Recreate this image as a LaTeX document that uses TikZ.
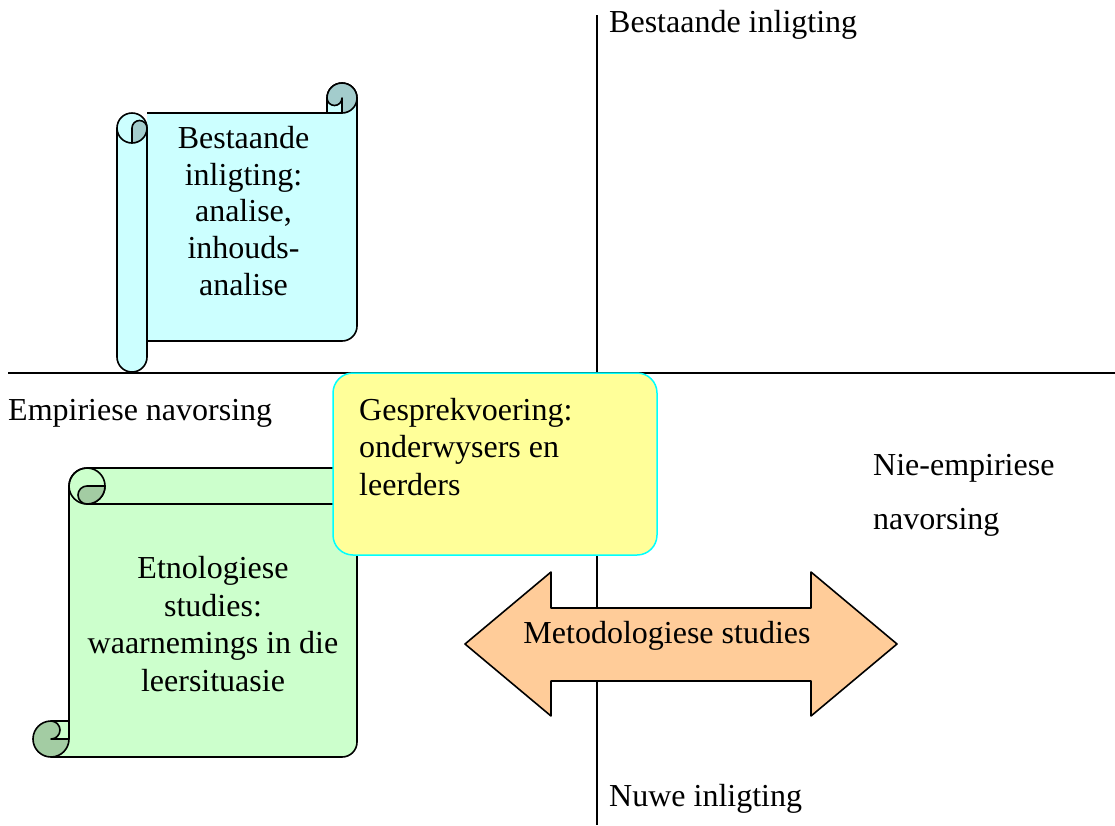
\documentclass[tikz,border=0pt]{standalone}
\usepackage{fontspec}
\setmainfont{Liberation Serif}
\definecolor{cyanf}{HTML}{CCFFFF}
\definecolor{cyand}{HTML}{A3CCCC}
\definecolor{greenf}{HTML}{CCFFCC}
\definecolor{greend}{HTML}{A3CCA3}
\definecolor{yfill}{HTML}{FFFF99}
\definecolor{ybord}{HTML}{00FFFF}
\definecolor{orangef}{HTML}{FFCC99}
\begin{document}
\begin{tikzpicture}[x=1pt,y=-1pt,line join=round,
  txt/.style={font=\fontsize{32}{36.6}\selectfont,inner sep=0pt},
  txtb/.style={font=\fontsize{32}{37.4}\selectfont,inner sep=0pt},
  ax/.style={line width=1.5pt},
  ol/.style={line width=1.6pt}]
\useasboundingbox (0,0) rectangle (1115,825);
% axes
\coordinate (hl) at (8,373); \coordinate (hr) at (1115,373);
\coordinate (vt) at (597,15); \coordinate (vb) at (597,825);
\draw[ax] (hl) -- (hr);
\draw[ax] (vt) -- (vb);
% axis labels
\node[txt,anchor=base west] (lt) at (609,32) {Bestaande inligting};
\node[txt,anchor=base west] (ll) at (8,420) {Empiriese navorsing};
\node[txt,anchor=base west] (lr1) at (873,475) {Nie-empiriese};
\node[txt,anchor=base west] (lr2) at (873,529) {navorsing};
\node[txt,anchor=base west] (lb) at (609,806) {Nuwe inligting};

% ---- cyan vertical scroll ----
\fill[cyanf] (147,113) -- (327,113) -- (327,98) arc[start angle=180,end angle=360,radius=15]
  -- (357,326) arc[start angle=0,end angle=90,radius=15] -- (147,341) -- cycle;
\draw[ol] (147,113) -- (342,113);
\draw[ol] (327,113) -- (327,98) arc[start angle=180,end angle=360,radius=15]
  -- (357,326) arc[start angle=0,end angle=90,radius=15] -- (147,341);
\filldraw[ol,fill=cyand] (342,98) circle[radius=15];
\fill[cyanf] (327,98) arc[start angle=180,end angle=0,radius=7.5] -- (342,113) -- (327,113) -- cycle;
\draw[ol] (327,113) -- (327,98) arc[start angle=180,end angle=0,radius=7.5] -- (342,113) -- cycle;
% tube
\filldraw[ol,fill=cyanf] (117,128) arc[start angle=180,end angle=360,radius=15]
  -- (147,357) arc[start angle=0,end angle=180,radius=15] -- cycle;
\filldraw[ol,fill=cyand] (132,128) arc[start angle=180,end angle=360,radius=7.5]
  arc[start angle=0,end angle=90,radius=15] -- cycle;
\draw[ol] (117,128) arc[start angle=180,end angle=90,radius=15];
\node[txt,align=center] (cs) at (243.5,211) {Bestaande\\inligting:\\analise,\\inhouds-\\analise};

% ---- green horizontal scroll ----
\fill[greenf] (69,486) arc[start angle=180,end angle=270,radius=18] -- (357,468)
  -- (357,742) arc[start angle=0,end angle=90,radius=15] -- (51,757) -- (51,721) -- (69,721) -- cycle;
\draw[ol] (69,739) -- (69,486) arc[start angle=180,end angle=270,radius=18] -- (357,468)
  -- (357,742) arc[start angle=0,end angle=90,radius=15] -- (51,757);
\draw[ol] (87,504) -- (357,504);
\draw[ol] (87,486) circle[radius=18];
\filldraw[ol,fill=greend] (87,486) -- (105,486) arc[start angle=0,end angle=90,radius=18]
  arc[start angle=90,end angle=270,radius=9] -- cycle;
\filldraw[ol,fill=greend] (51,739) circle[radius=18];
\fill[greenf] (51,721) arc[start angle=270,end angle=450,radius=9] -- (69,739) -- (69,721) -- cycle;
\draw[ol] (69,721) -- (51,721) arc[start angle=270,end angle=450,radius=9] -- (69,739);
\draw[ol] (69,721) -- (69,739);
\node[txtb,align=center] (gs) at (213,624) {Etnologiese\\studies:\\waarnemings in die\\leersituasie};

% ---- yellow box ----
\node[draw=ybord,fill=yfill,line width=1.5pt,rounded corners=20pt,minimum width=324pt,
  minimum height=182pt,inner sep=0pt] (gb) at (495,464) {};
\node[txtb,align=left,anchor=west] (gt) at (359,447) {Gesprekvoering:\\onderwysers en\\leerders};

% ---- double arrow ----
\filldraw[ol,fill=orangef] (465,644) -- (551,572) -- (551,608) -- (811,608) -- (811,572)
  -- (897,644) -- (811,716) -- (811,681) -- (551,681) -- (551,716) -- cycle;
\node[txt,anchor=base] (ms) at (667,643) {Metodologiese studies};
\end{tikzpicture}
\end{document}
